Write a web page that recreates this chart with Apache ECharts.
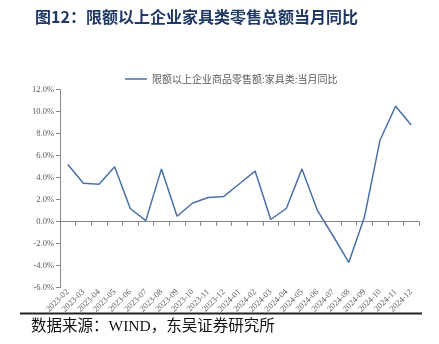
<!DOCTYPE html>
<html>
<head>
<meta charset="utf-8">
<script src="https://cdn.jsdelivr.net/npm/echarts@6/dist/echarts.min.js"></script>
<style>
  html, body { margin: 0; padding: 0; background: #fff; }
  #chart { width: 439px; height: 344px; }
</style>
</head>
<body>
<div id="chart"></div>
<script>
// Monthly categories
const months = [
  '2023-02', '2023-03', '2023-04', '2023-05', '2023-06', '2023-07',
  '2023-08', '2023-09', '2023-10', '2023-11', '2023-12', '2024-01',
  '2024-02', '2024-03', '2024-04', '2024-05', '2024-06', '2024-07',
  '2024-08', '2024-09', '2024-10', '2024-11', '2024-12'
];

// Furniture retail sales, year-on-year growth (%)
const furnitureYoY = [
  5.2, 3.5, 3.4, 5.0, 1.2, 0.1,
  4.8, 0.5, 1.7, 2.2, 2.3, 3.45,
  4.6, 0.2, 1.2, 4.8, 1.0, -1.3,
  -3.7, 0.4, 7.4, 10.5, 8.8
];

const seriesName = '限额以上企业商品零售额:家具类:当月同比';
const titleText = '图12：限额以上企业家具类零售总额当月同比';
const sourceText = '数据来源：WIND，东吴证券研究所';

// Value axis range and step
const yMin = -6;
const yMax = 12;
const yStep = 2;

const lineBlue = '#4a70a8';
const axisGray = '#868686';
const labelGray = '#595959';
const serifFont = '"Liberation Serif", "Noto Sans CJK SC", serif';

const chart = echarts.init(document.getElementById('chart'), null, { renderer: 'canvas' });

chart.setOption({
  animation: false,
  backgroundColor: '#ffffff',
  title: {
    text: titleText,
    left: 30,
    top: 4,
    textStyle: {
      fontFamily: '"Noto Sans CJK SC", sans-serif',
      fontSize: 16,
      fontWeight: 'bold',
      color: '#1f3864'
    }
  },
  legend: {
    data: [seriesName],
    left: 120,
    top: 69,
    icon: 'rect',
    itemWidth: 22,
    itemHeight: 1.5,
    itemGap: 4,
    itemStyle: { color: lineBlue },
    textStyle: {
      fontFamily: '"Noto Sans CJK SC", sans-serif',
      fontSize: 10,
      color: labelGray
    }
  },
  grid: {
    left: 60,
    right: 20,
    top: 89.7,
    bottom: 56.3,
    containLabel: false
  },
  xAxis: {
    type: 'category',
    data: months,
    boundaryGap: true,
    axisLine: { onZero: true, lineStyle: { color: axisGray, width: 1 } },
    axisTick: { show: true, inside: false, length: 4, alignWithLabel: false, interval: 0, lineStyle: { color: axisGray } },
    axisLabel: {
      interval: 0,
      rotate: 45,
      margin: 3,
      fontFamily: serifFont,
      fontSize: 8.5,
      color: labelGray
    },
    splitLine: { show: false }
  },
  yAxis: {
    type: 'value',
    min: yMin,
    max: yMax,
    interval: yStep,
    axisLine: { show: true, lineStyle: { color: axisGray, width: 1 } },
    axisTick: { show: true, inside: false, length: 4, lineStyle: { color: axisGray } },
    axisLabel: {
      formatter: v => v.toFixed(1) + '%',
      margin: 6,
      fontFamily: serifFont,
      fontSize: 8.5,
      color: labelGray
    },
    splitLine: { show: false }
  },
  series: [{
    name: seriesName,
    type: 'line',
    data: furnitureYoY,
    symbol: 'none',
    lineStyle: { color: lineBlue, width: 1.5 },
    itemStyle: { color: lineBlue }
  }],
  graphic: [
    {
      type: 'line',
      shape: { x1: 20, y1: 313.5, x2: 422, y2: 313.5 },
      style: { stroke: '#222222', lineWidth: 2 }
    },
    {
      type: 'text',
      left: 31,
      top: 319,
      style: {
        text: sourceText,
        font: '15.5px "Liberation Serif", "Noto Sans CJK SC", serif',
        fill: '#111111'
      }
    }
  ]
});
</script>
</body>
</html>
